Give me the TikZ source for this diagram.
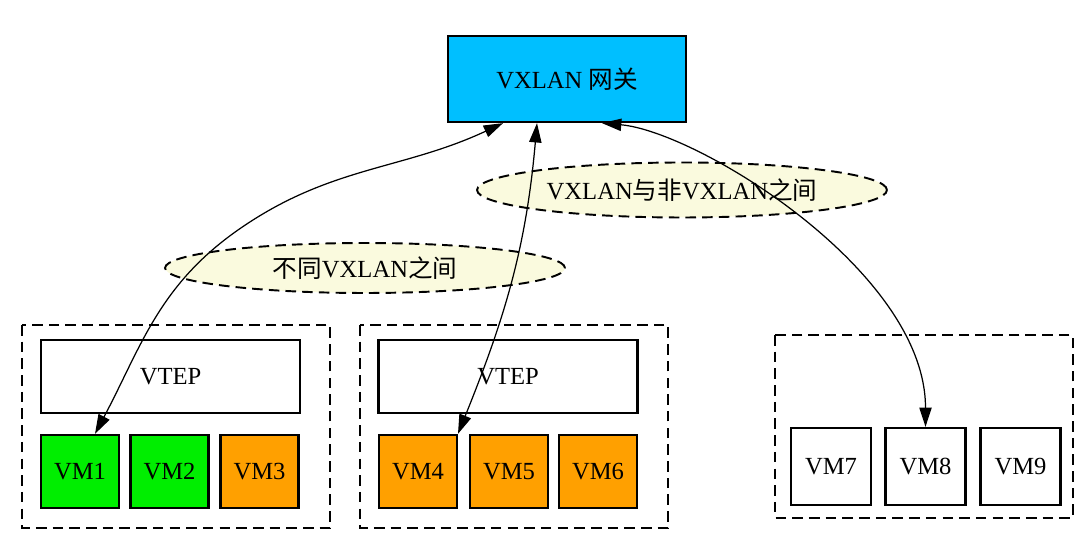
\documentclass[tikz,border=0pt]{standalone}
\usepackage{fontspec}
\setmainfont{Liberation Serif}
\newfontfamily\cjk{Noto Sans CJK SC}
\usepackage{tikz}
\usetikzlibrary{arrows.meta, shapes.geometric}
\definecolor{gwblue}{RGB}{0,191,255}
\definecolor{vmgreen}{RGB}{0,238,0}
\definecolor{vmorange}{RGB}{255,160,0}
\definecolor{notefill}{RGB}{250,250,222}

\begin{document}
\begin{tikzpicture}[>={Triangle[length=11pt, width=7pt]}, x=0.02cm, y=-0.02cm,
    font=\fontsize{14}{17}\selectfont,
    box/.style={draw, line width=1.3pt, inner sep=0pt},
    vm/.style={box, minimum width=1.56cm, minimum height=1.46cm},
    vtep/.style={box, minimum width=5.18cm, minimum height=1.46cm},
    note/.style={ellipse, draw, line width=1.1pt, fill=notefill, dash pattern=on 6pt off 3.5pt},
    cluster/.style={draw, line width=1.1pt, dash pattern=on 6pt off 3.5pt},
    link/.style={<->, line width=0.7pt}]
        \useasboundingbox (0,0) rectangle (1080,536);

        % Clusters
        \draw [cluster] (22,325) rectangle (330,528);
        \draw [cluster] (360,325) rectangle (668,528);
        \draw [cluster] (775,335) rectangle (1073,518);

        % Gateway
        \node [box, fill=gwblue, minimum width=4.76cm, minimum height=1.72cm] (gw) at (567,79) {VXLAN {\cjk 网关}};

        % Notes
        \node [note, minimum width=8cm, minimum height=1cm] (noteA) at (365,268) {{\cjk 不同}VXLAN{\cjk 之间}};
        \node [note, minimum width=8.2cm, minimum height=1.1cm] (noteB) at (682,190) {VXLAN{\cjk 与非}VXLAN{\cjk 之间}};

        % VTEPs
        \node [vtep] (vtepA) at (170.5,376.5) {VTEP};
        \node [vtep] (vtepB) at (508,376.5) {VTEP};

        % VMs
        \node [vm, fill=vmgreen] (vm1) at (80,471.5) {VM1};
        \node [vm, fill=vmgreen] (vm2) at (169.5,471.5) {VM2};
        \node [vm, fill=vmorange] (vm3) at (259.5,471.5) {VM3};
        \node [vm, fill=vmorange] (vm4) at (418,471.5) {VM4};
        \node [vm, fill=vmorange] (vm5) at (509,471.5) {VM5};
        \node [vm, fill=vmorange] (vm6) at (598,471.5) {VM6};
        \node [vm, minimum width=1.6cm, minimum height=1.54cm] (vm7) at (831,466.5) {VM7};
        \node [vm, minimum width=1.6cm, minimum height=1.54cm] (vm8) at (925.5,466.5) {VM8};
        \node [vm, minimum width=1.6cm, minimum height=1.54cm] (vm9) at (1020.5,466.5) {VM9};

        % Links
        \draw [link] ([xshift=0.3cm]vm1.north) to [out=62, in=215] (238,230) to [out=35, in=205] ([xshift=-1.28cm]gw.south);
        \draw [link] ([xshift=0.8cm]vm4.north) to [out=68, in=265] ([xshift=-0.6cm]gw.south);
        \draw [link] ([xshift=0.7cm]gw.south) to [out=-5, in=90, out looseness=0.55, in looseness=0.9] (vm8.north);
\end{tikzpicture}
\end{document}
